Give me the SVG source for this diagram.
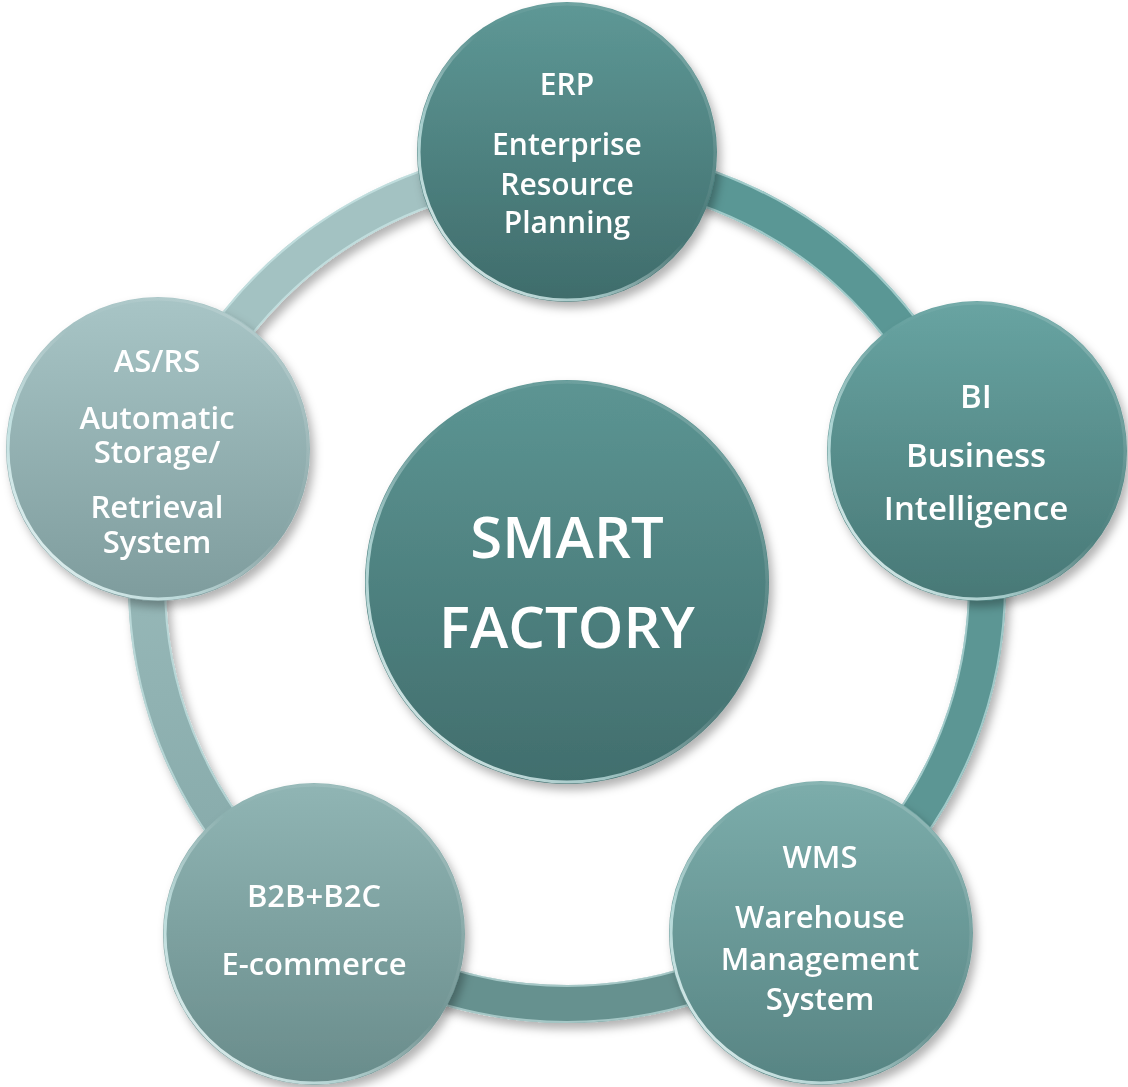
<svg xmlns="http://www.w3.org/2000/svg" width="1128" height="1087" viewBox="0 0 1128 1087">
<style>
.lbl{fill:#ffffff;font-family:"Open Sans","Noto Sans","DejaVu Sans",sans-serif;font-weight:600;text-anchor:middle}
.seg{fill:none;stroke-width:38;stroke-linecap:butt}
.hi{fill:none;stroke:#d8f4f4;stroke-opacity:0.55;stroke-width:2}
.rim{fill:none;stroke:url(#rim);stroke-width:3}
</style>
<defs>
<filter id="sh" x="-20%" y="-20%" width="140%" height="140%">
<feDropShadow dx="4" dy="6" stdDeviation="5" flood-color="#000" flood-opacity="0.3"/>
</filter>
<linearGradient id="rim" x1="0" y1="1" x2="1" y2="0">
<stop offset="0" stop-color="#ffffff" stop-opacity="0.95"/>
<stop offset="0.3" stop-color="#e0ffff" stop-opacity="0.6"/>
<stop offset="0.55" stop-color="#ffffff" stop-opacity="0"/>
<stop offset="0.85" stop-color="#ffffff" stop-opacity="0.15"/>
<stop offset="1" stop-color="#ffffff" stop-opacity="0.4"/>
</linearGradient>
<linearGradient id="gERP" x1="0" y1="0" x2="0" y2="1"><stop offset="0" stop-color="#5e9896"/><stop offset="1" stop-color="#3f6c6b"/></linearGradient>
<linearGradient id="gBI" x1="0" y1="0" x2="0" y2="1"><stop offset="0" stop-color="#68a4a2"/><stop offset="1" stop-color="#487876"/></linearGradient>
<linearGradient id="gWMS" x1="0" y1="0" x2="0" y2="1"><stop offset="0" stop-color="#7cadab"/><stop offset="1" stop-color="#578483"/></linearGradient>
<linearGradient id="gB2B" x1="0" y1="0" x2="0" y2="1"><stop offset="0" stop-color="#90b5b4"/><stop offset="1" stop-color="#698c8b"/></linearGradient>
<linearGradient id="gAS" x1="0" y1="0" x2="0" y2="1"><stop offset="0" stop-color="#a8c5c6"/><stop offset="1" stop-color="#7e9c9d"/></linearGradient>
<linearGradient id="gC" x1="0" y1="0" x2="0" y2="1"><stop offset="0" stop-color="#5c9593"/><stop offset="1" stop-color="#416e6d"/></linearGradient>
<linearGradient id="gS5" gradientUnits="userSpaceOnUse" x1="0" y1="454" x2="0" y2="924"><stop offset="0" stop-color="#9dbdbd"/><stop offset="1" stop-color="#84a8a8"/></linearGradient>
</defs>

<g id="connectors" filter="url(#sh)">
<path class="seg" stroke="#a3c2c2" d="M167.5,454.2 A420,420 0 0 1 567,164"/>
<path class="seg" stroke="#5a9795" d="M567,164 A420,420 0 0 1 966.5,454.2"/>
<path class="seg" stroke="#5c9694" d="M966.5,454.2 A420,420 0 0 1 813.9,923.8"/>
<path class="seg" stroke="#66918f" d="M813.9,923.8 A420,420 0 0 1 320.1,923.8"/>
<path class="seg" stroke="url(#gS5)" d="M320.1,923.8 A420,420 0 0 1 167.5,454.2"/>
<circle class="hi" cx="567" cy="584" r="402"/>
<circle class="hi" cx="567" cy="584" r="438" stroke-opacity="0.3"/>
</g>

<g id="node-center" filter="url(#sh)">
<circle cx="567" cy="582" r="202" fill="url(#gC)"/>
<circle class="rim" cx="567" cy="582" r="200"/>
<text class="lbl" x="567" y="558" font-size="58">SMART</text>
<text class="lbl" x="567" y="648" font-size="58">FACTORY</text>
</g>

<g id="node-erp" filter="url(#sh)">
<circle cx="567" cy="152" r="150" fill="url(#gERP)"/>
<circle class="rim" cx="567" cy="152" r="148"/>
<text class="lbl" x="567" y="95" font-size="30">ERP</text>
<text class="lbl" x="567" y="155" font-size="30">Enterprise</text>
<text class="lbl" x="567" y="195" font-size="30">Resource</text>
<text class="lbl" x="567" y="233" font-size="30">Planning</text>
</g>

<g id="node-bi" filter="url(#sh)">
<circle cx="977" cy="451" r="150" fill="url(#gBI)"/>
<circle class="rim" cx="977" cy="451" r="148"/>
<text class="lbl" x="976" y="408" font-size="33">BI</text>
<text class="lbl" x="976" y="467" font-size="33">Business</text>
<text class="lbl" x="976" y="520" font-size="33">Intelligence</text>
</g>

<g id="node-wms" filter="url(#sh)">
<circle cx="821" cy="933" r="152" fill="url(#gWMS)"/>
<circle class="rim" cx="821" cy="933" r="150"/>
<text class="lbl" x="820" y="868" font-size="31">WMS</text>
<text class="lbl" x="820" y="928" font-size="31">Warehouse</text>
<text class="lbl" x="820" y="970" font-size="31">Management</text>
<text class="lbl" x="820" y="1010" font-size="31">System</text>
</g>

<g id="node-b2b" filter="url(#sh)">
<circle cx="314" cy="934" r="151" fill="url(#gB2B)"/>
<circle class="rim" cx="314" cy="934" r="149"/>
<text class="lbl" x="314" y="907" font-size="31">B2B+B2C</text>
<text class="lbl" x="314" y="975" font-size="31">E-commerce</text>
</g>

<g id="node-asrs" filter="url(#sh)">
<circle cx="158" cy="449" r="152" fill="url(#gAS)"/>
<circle class="rim" cx="158" cy="449" r="150"/>
<text class="lbl" x="157" y="372" font-size="31">AS/RS</text>
<text class="lbl" x="157" y="429" font-size="31">Automatic</text>
<text class="lbl" x="157" y="463" font-size="31">Storage/</text>
<text class="lbl" x="157" y="518" font-size="31">Retrieval</text>
<text class="lbl" x="157" y="553" font-size="31">System</text>
</g>
</svg>
